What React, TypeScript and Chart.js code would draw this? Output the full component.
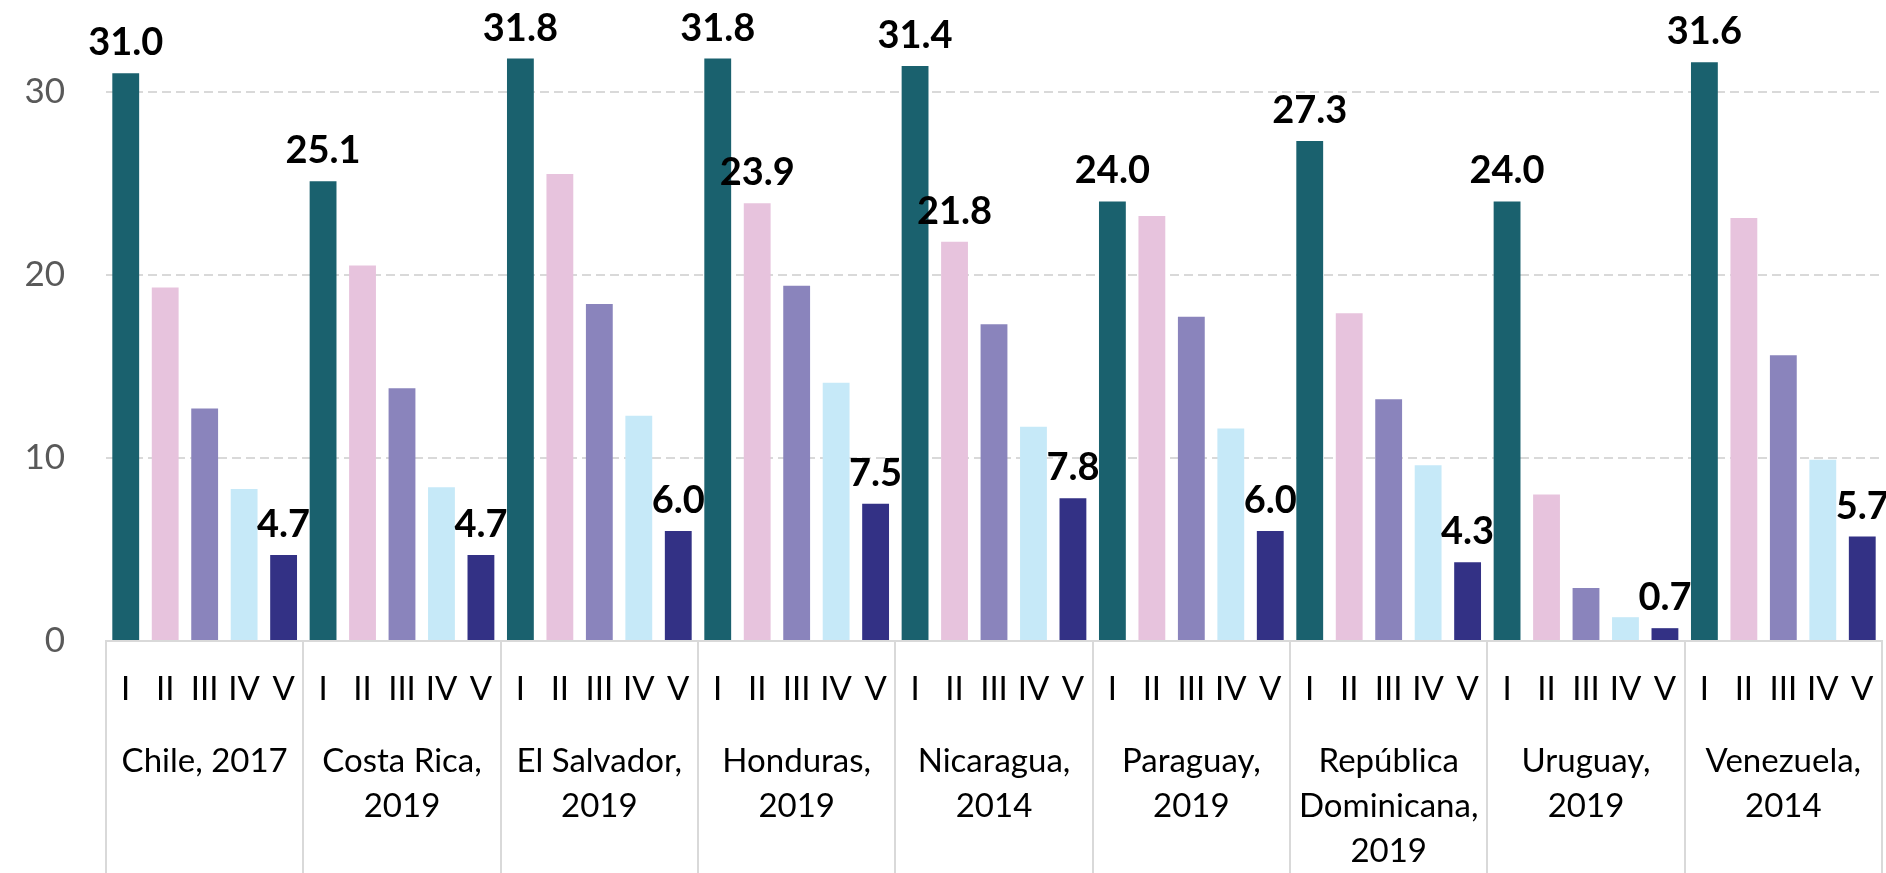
import React, { useEffect, useRef } from "react";
import { Chart, registerables } from "chart.js";

Chart.register(...registerables);

const countries: string[][] = [
  ["Chile, 2017"],
  ["Costa Rica,", "2019"],
  ["El Salvador,", "2019"],
  ["Honduras,", "2019"],
  ["Nicaragua,", "2014"],
  ["Paraguay,", "2019"],
  ["República", "Dominicana,", "2019"],
  ["Uruguay,", "2019"],
  ["Venezuela,", "2014"],
];
const quintiles = ["I", "II", "III", "IV", "V"];

const q1 = [31.0, 25.1, 31.8, 31.8, 31.4, 24.0, 27.3, 24.0, 31.6];
const q2 = [19.3, 20.5, 25.5, 23.9, 21.8, 23.2, 17.9, 8.0, 23.1];
const q3 = [12.7, 13.8, 18.4, 19.4, 17.3, 17.7, 13.2, 2.9, 15.6];
const q4 = [8.3, 8.4, 12.3, 14.1, 11.7, 11.6, 9.6, 1.3, 9.9];
const q5 = [4.7, 4.7, 6.0, 7.5, 7.8, 6.0, 4.3, 0.7, 5.7];

const q1Labeled = [true, true, true, true, true, true, true, true, true];
const q2Labeled = [false, false, false, true, true, false, false, false, false];
const q3Labeled = [false, false, false, false, false, false, false, false, false];
const q4Labeled = [false, false, false, false, false, false, false, false, false];
const q5Labeled = [true, true, true, true, true, true, true, true, true];

const yTicks = [0, 10, 20, 30];

const colors = ["#1a616e", "#e7c3dd", "#8a84bc", "#c6e9f8", "#333185"];
const FONT = "Lato, 'Open Sans', sans-serif";

export default function App() {
  const ref = useRef<HTMLCanvasElement | null>(null);

  useEffect(() => {
    document.body.style.margin = "0";
    const canvas = ref.current;
    if (!canvas) return;

    const series = [q1, q2, q3, q4, q5];
    const labeled = [q1Labeled, q2Labeled, q3Labeled, q4Labeled, q5Labeled];
    const xLabels: string[] = [];
    countries.forEach(() => quintiles.forEach((q) => xLabels.push(q)));

    const datasets = series.map((vals, i) => {
      const data: (number | null)[] = xLabels.map(() => null);
      vals.forEach((v, c) => {
        data[c * 5 + i] = v;
      });
      return {
        label: quintiles[i],
        data,
        backgroundColor: colors[i],
        borderWidth: 0,
        barPercentage: 0.68,
        categoryPercentage: 1,
        grouped: false,
        xAxisID: "x",
      };
    });

    const labelPlugin = {
      id: "valueLabels",
      afterDatasetsDraw(chart: any) {
        const ctx = chart.ctx;
        ctx.save();
        ctx.font = `bold 38px ${FONT}`;
        ctx.fillStyle = "#000000";
        ctx.textAlign = "center";
        ctx.textBaseline = "alphabetic";
        series.forEach((vals, i) => {
          const meta = chart.getDatasetMeta(i);
          vals.forEach((v, c) => {
            if (!labeled[i][c]) return;
            const el = meta.data[c * 5 + i];
            if (!el) return;
            ctx.fillText(v.toFixed(1), el.x, el.y - 18);
          });
        });
        ctx.restore();
      },
    };

    const separatorPlugin = {
      id: "groupSeparators",
      afterDraw(chart: any) {
        const ctx = chart.ctx;
        const xs = chart.scales.x;
        const area = chart.chartArea;
        ctx.save();
        ctx.strokeStyle = "#d9d9d9";
        ctx.lineWidth = 2;
        for (let g = 0; g <= countries.length; g++) {
          let x: number;
          if (g === 0) x = area.left;
          else if (g === countries.length) x = area.right;
          else x = (xs.getPixelForValue(g * 5 - 1) + xs.getPixelForValue(g * 5)) / 2;
          ctx.beginPath();
          ctx.moveTo(Math.round(x), area.bottom);
          ctx.lineTo(Math.round(x), chart.height);
          ctx.stroke();
        }
        ctx.restore();
      },
    };

    const zeroPad = (scale: any) => {
      scale.paddingTop = 0;
      scale.paddingBottom = 0;
      scale.paddingLeft = 0;
      scale.paddingRight = 0;
    };

    const chart = new Chart(canvas, {
      type: "bar",
      data: { labels: xLabels, datasets: datasets as any },
      plugins: [labelPlugin, separatorPlugin],
      options: {
        animation: false,
        responsive: true,
        maintainAspectRatio: false,
        layout: { padding: { left: 0, right: 4, top: 0, bottom: 0 } },
        plugins: { legend: { display: false }, tooltip: { enabled: false } },
        scales: {
          x: {
            type: "category",
            position: "bottom",
            weight: 0,
            grid: { display: false, drawTicks: false },
            border: { display: true, color: "#d9d9d9", width: 2 },
            ticks: {
              autoSkip: false,
              maxRotation: 0,
              minRotation: 0,
              padding: 29,
              color: "#000000",
              font: { family: FONT, size: 33 },
            },
            afterFit(scale: any) {
              scale.height = 68;
              zeroPad(scale);
            },
          },
          x2: {
            type: "category",
            position: "bottom",
            weight: 1,
            labels: countries as any,
            grid: { display: false, drawTicks: false },
            border: { display: false },
            ticks: {
              autoSkip: false,
              maxRotation: 0,
              minRotation: 0,
              padding: 30,
              color: "#000000",
              font: { family: FONT, size: 33, lineHeight: "45px" as any },
            },
            afterFit(scale: any) {
              scale.height = 164;
              zeroPad(scale);
            },
          },
          y: {
            type: "linear",
            min: 0,
            max: 35,
            afterBuildTicks(scale: any) {
              scale.ticks = yTicks.map((v) => ({ value: v }));
            },
            afterFit(scale: any) {
              scale.width = 106;
              zeroPad(scale);
            },
            grid: {
              drawTicks: false,
              lineWidth: 2,
              color: (ctx: any) =>
                ctx.tick && ctx.tick.value === 0 ? "rgba(0,0,0,0)" : "#d9d9d9",
            },
            border: { display: false, dash: [9, 5] },
            ticks: {
              padding: 41,
              color: "#595959",
              font: { family: FONT, size: 35 },
            },
          },
        },
      },
    });

    return () => {
      chart.destroy();
    };
  }, []);

  return (
    <div style={{ width: 1886, height: 873, position: "relative" }}>
      <canvas ref={ref} />
    </div>
  );
}
